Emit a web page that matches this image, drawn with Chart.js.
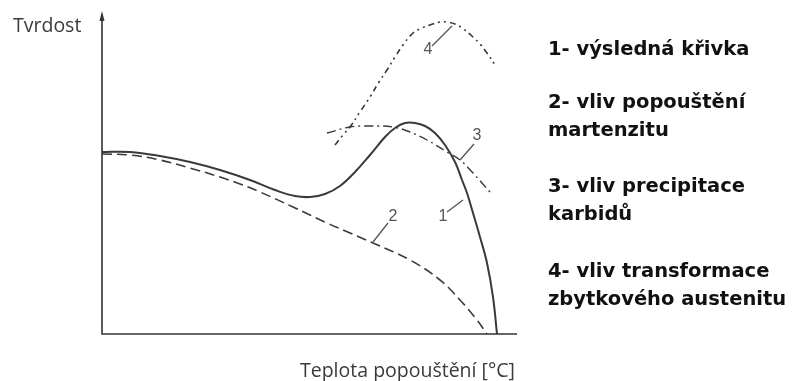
<!DOCTYPE html>
<html>
<head>
<meta charset="utf-8">
<script src="https://cdn.jsdelivr.net/npm/chart.js@4/dist/chart.umd.min.js"></script>
<style>
  html, body { margin: 0; padding: 0; background: #ffffff; }
  #wrap { position: relative; width: 796px; height: 381px; }
</style>
</head>
<body>
<div id="wrap"><canvas id="c" width="796" height="381"></canvas></div>
<script>
// Tempering temperature (relative units) and hardness (relative units)
const resultT = [0, 28, 58, 88, 118, 148, 173, 193, 208, 223, 238, 253, 268, 283, 293, 303, 313, 323, 333, 343, 353, 360, 365, 371, 378, 385, 391, 395];
const resultH = [182, 182, 178, 172, 164, 154, 144, 138, 137, 140, 148, 162, 179, 197, 206, 211, 211, 208, 201, 189, 172, 154, 141, 121, 97, 71, 37, 0];

const martensiteT = [0, 28, 58, 88, 118, 138, 158, 191, 225, 248, 271, 308, 338, 358, 375, 385];
const martensiteH = [180, 179, 174, 166, 157, 150, 142, 127, 111, 101, 91, 74, 54, 34, 14, 0];

const carbideT = [225, 248, 268, 291, 308, 325, 345, 358, 371, 388];
const carbideH = [201, 207, 208, 207, 202, 194, 182, 174, 161, 142];

const austeniteT = [233, 241, 248, 258, 268, 277, 285, 293, 301, 311, 320, 328, 338, 345, 353, 360, 371, 378, 385, 393];
const austeniteH = [189, 199, 207, 222, 237, 252, 264, 277, 289, 301, 306, 309, 312, 312, 310, 306, 297, 290, 281, 269];

const curveNumbers = ['1', '2', '3', '4'];
const legendLines = [
  '1- výsledná křivka',
  '2- vliv popouštění', 'martenzitu',
  '3- vliv precipitace', 'karbidů',
  '4- vliv transformace', 'zbytkového austenitu'
];
const yTitle = 'Tvrdost';
const xTitle = 'Teplota popouštění [°C]';

const pts = (xs, ys) => xs.map((x, i) => ({ x: x, y: ys[i] }));
const ink = '#3a3a3a';

const decorations = {
  id: 'decorations',
  afterDraw(chart) {
    const ctx = chart.ctx;
    const xs = chart.scales.x, ys = chart.scales.y;
    const a = chart.chartArea;
    const X = v => xs.getPixelForValue(v);
    const Y = v => ys.getPixelForValue(v);
    ctx.save();

    // axes
    ctx.strokeStyle = '#333';
    ctx.lineWidth = 1.6;
    ctx.beginPath();
    ctx.moveTo(a.left, a.top + 2);
    ctx.lineTo(a.left, a.bottom);
    ctx.lineTo(a.right, a.bottom);
    ctx.stroke();
    ctx.fillStyle = '#333';
    ctx.beginPath();
    ctx.moveTo(a.left, a.top - 1);
    ctx.lineTo(a.left - 2.5, a.top + 9);
    ctx.lineTo(a.left + 2.5, a.top + 9);
    ctx.closePath();
    ctx.fill();

    // curve numbers with leader lines
    ctx.strokeStyle = '#555';
    ctx.lineWidth = 1.3;
    const leaders = [
      [[345, 122], [361, 134]],
      [[271, 92], [286, 111]],
      [[358, 174], [372, 190]],
      [[350, 308], [330, 288]]
    ];
    const numPos = [[341, 117], [291, 117], [375, 198], [326, 284]];
    leaders.forEach(l => {
      ctx.beginPath();
      ctx.moveTo(X(l[0][0]), Y(l[0][1]));
      ctx.lineTo(X(l[1][0]), Y(l[1][1]));
      ctx.stroke();
    });
    ctx.fillStyle = '#555';
    ctx.font = '16px "Liberation Sans Narrow", "Liberation Sans", sans-serif';
    ctx.textAlign = 'center';
    ctx.textBaseline = 'middle';
    curveNumbers.forEach((n, i) => ctx.fillText(n, X(numPos[i][0]), Y(numPos[i][1])));

    // axis titles
    ctx.fillStyle = ink;
    ctx.textAlign = 'left';
    ctx.textBaseline = 'alphabetic';
    ctx.font = '19.5px "Open Sans", sans-serif';
    ctx.fillText(yTitle, 13, 32);
    ctx.fillText(xTitle, 300, 377);

    // legend
    ctx.fillStyle = '#111';
    ctx.font = 'bold 19.5px "DejaVu Sans", sans-serif';
    const baselines = [55, 108, 136, 192, 220, 277, 305];
    legendLines.forEach((t, i) => ctx.fillText(t, 548, baselines[i]));
    ctx.restore();
  }
};

const common = {
  borderColor: ink,
  pointRadius: 0,
  fill: false,
  tension: 0.4,
  clip: false
};

new Chart(document.getElementById('c'), {
  type: 'line',
  data: {
    datasets: [
      Object.assign({ label: legendLines[0], data: pts(resultT, resultH), borderWidth: 2 }, common),
      Object.assign({ label: legendLines[1], data: pts(martensiteT, martensiteH), borderWidth: 1.6, borderDash: [10, 5] }, common),
      Object.assign({ label: legendLines[3], data: pts(carbideT, carbideH), borderWidth: 1.4, borderDash: [9, 4, 2, 4], borderColor: '#555' }, common),
      Object.assign({ label: legendLines[5], data: pts(austeniteT, austeniteH), borderWidth: 1.6, borderDash: [6, 4, 2, 4, 2, 4], borderColor: '#555' }, common)
    ]
  },
  options: {
    responsive: false,
    animation: false,
    layout: { padding: { left: 102, right: 279, top: 12, bottom: 47 } },
    plugins: { legend: { display: false }, tooltip: { enabled: false } },
    scales: {
      x: { type: 'linear', min: 0, max: 415, display: false },
      y: { type: 'linear', min: 0, max: 322, display: false }
    }
  },
  plugins: [decorations]
});
</script>
</body>
</html>
